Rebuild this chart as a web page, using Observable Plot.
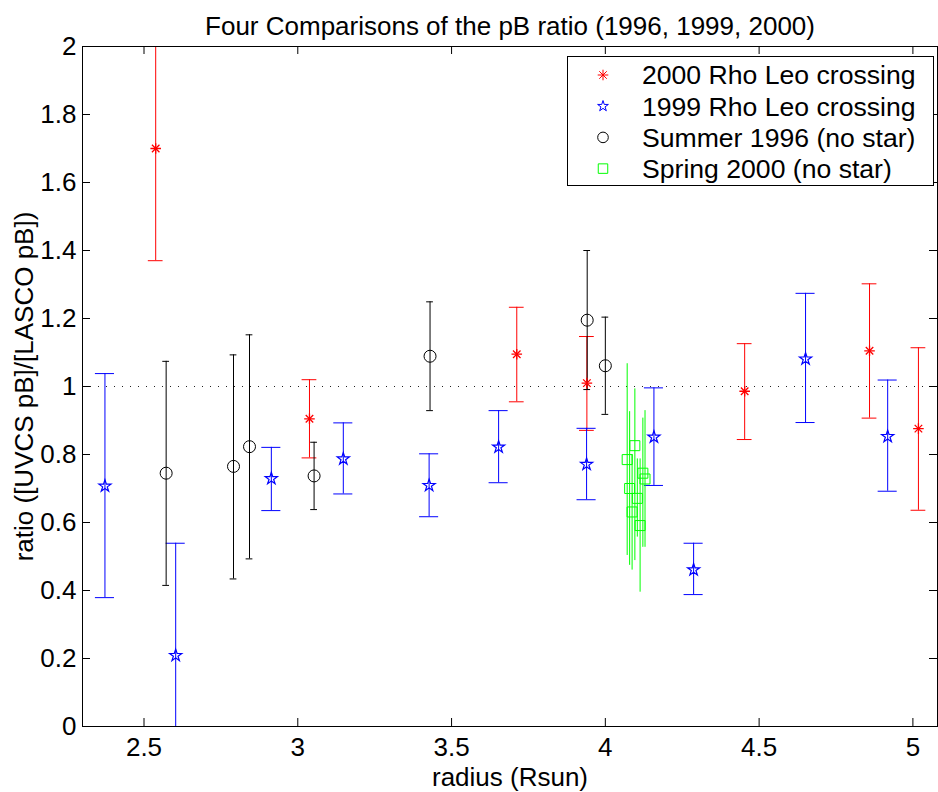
<!DOCTYPE html>
<html>
<head>
<meta charset="utf-8">
<script src="https://cdn.jsdelivr.net/npm/d3@7"></script>
<script src="https://cdn.jsdelivr.net/npm/@observablehq/plot@0.6"></script>
<style>
  body { margin: 0; background: #fff; }
  #wrap { position: relative; width: 938px; height: 792px; font-family: "Liberation Sans", Arial, sans-serif; }
  #legend { position: absolute; left: 0; top: 0; pointer-events: none; }
</style>
</head>
<body>
<div id="wrap"></div>
<script>
// ---- data ----
const titleText = "Four Comparisons of the pB ratio (1996, 1999, 2000)";
const xLabel = "radius (Rsun)";
const yLabel = "ratio ([UVCS pB]/[LASCO pB])";

const seriesNames = ["2000 Rho Leo crossing", "1999 Rho Leo crossing", "Summer 1996 (no star)", "Spring 2000 (no star)"];

const red2000X  = [2.538, 3.038, 3.712, 3.940, 4.453, 4.859, 5.018];
const red2000Y  = [1.700, 0.905, 1.095, 1.010, 0.986, 1.105, 0.876];
const red2000Lo = [1.370, 0.790, 0.955, 0.871, 0.844, 0.907, 0.636];
const red2000Hi = [2.030, 1.020, 1.233, 1.147, 1.126, 1.302, 1.114];

const blue1999X  = [2.373, 2.603, 2.914, 3.148, 3.427, 3.653, 3.939, 4.158, 4.287, 4.651, 4.918];
const blue1999Y  = [0.707, 0.209, 0.729, 0.787, 0.709, 0.822, 0.771, 0.851, 0.461, 1.081, 0.853];
const blue1999Lo = [0.379, -0.120, 0.635, 0.684, 0.617, 0.717, 0.667, 0.709, 0.388, 0.894, 0.692];
const blue1999Hi = [1.038, 0.539, 0.821, 0.893, 0.802, 0.929, 0.877, 0.996, 0.539, 1.274, 1.019];

const black1996X  = [2.572, 2.791, 2.843, 3.053, 3.430, 3.941, 4.000];
const black1996Y  = [0.745, 0.765, 0.823, 0.737, 1.089, 1.195, 1.061];
const black1996Lo = [0.415, 0.434, 0.493, 0.638, 0.929, 0.991, 0.918];
const black1996Hi = [1.074, 1.093, 1.152, 0.836, 1.249, 1.400, 1.204];

const green2000X  = [4.071, 4.079, 4.087, 4.096, 4.104, 4.113, 4.122, 4.129];
const green2000Y  = [0.785, 0.700, 0.631, 0.826, 0.671, 0.591, 0.745, 0.728];
const green2000Lo = [0.503, 0.474, 0.460, 0.488, 0.557, 0.395, 0.527, 0.527];
const green2000Hi = [1.067, 0.926, 0.800, 0.993, 0.787, 0.787, 0.907, 0.929];

const xTicks = [2.5, 3, 3.5, 4, 4.5, 5];
const xTickLabels = ["2.5", "3", "3.5", "4", "4.5", "5"];
const yTicks = [0, 0.2, 0.4, 0.6, 0.8, 1, 1.2, 1.4, 1.6, 1.8, 2];
const yTickLabels = ["0", "0.2", "0.4", "0.6", "0.8", "1", "1.2", "1.4", "1.6", "1.8", "2"];
const refLine = [1];

// ---- build tables ----
function table(xs, ys, lo, hi) {
  return xs.map((x, i) => ({x, y: ys[i], lo: lo[i], hi: hi[i]}));
}
const red = table(red2000X, red2000Y, red2000Lo, red2000Hi);
const blue = table(blue1999X, blue1999Y, blue1999Lo, blue1999Hi);
const black = table(black1996X, black1996Y, black1996Lo, black1996Hi);
const green = table(green2000X, green2000Y, green2000Lo, green2000Hi);

const RED = "#ff0000", BLUE = "#0000ff", BLACK = "#000000", GREEN = "#00ff00";
const W = 938, H = 792, mL = 82, mR = 1, mT = 46, mB = 66;
const frameW = W - mL - mR, frameH = H - mT - mB;
const FONT = 26;

function errorbars(data, color, capHalf) {
  const marks = [
    Plot.ruleX(data, {x: "x", y1: "lo", y2: "hi", stroke: color, strokeWidth: 1, clip: true})
  ];
  if (capHalf > 0) {
    marks.push(Plot.ruleY(data, {y: "lo", x1: d => d.x - capHalf, x2: d => d.x + capHalf, stroke: color, strokeWidth: 1, clip: true}));
    marks.push(Plot.ruleY(data, {y: "hi", x1: d => d.x - capHalf, x2: d => d.x + capHalf, stroke: color, strokeWidth: 1, clip: true}));
  }
  return marks;
}

const chart = Plot.plot({
  width: W, height: H,
  marginLeft: mL, marginRight: mR, marginTop: mT, marginBottom: mB,
  style: {fontFamily: "'Liberation Sans', Arial, sans-serif", fontSize: FONT + "px", background: "#fff", color: "#000"},
  x: {domain: [2.3, 5.08]},
  y: {domain: [0, 2]},
  marks: [
    Plot.ruleY(refLine, {y: d => d, stroke: "#222", strokeDasharray: "1,7", strokeWidth: 1}),
    ...errorbars(red, RED, 0.024),
    ...errorbars(blue, BLUE, 0.031),
    ...errorbars(black, BLACK, 0.011),
    ...errorbars(green, GREEN, 0),
    Plot.dot(red, {x: "x", y: "y", symbol: "plus", r: 3.5, stroke: RED, strokeWidth: 1.3, fill: "none"}),
    Plot.dot(red, {x: "x", y: "y", symbol: "times", r: 3.5, stroke: RED, strokeWidth: 1.3, fill: "none"}),
    Plot.dot(blue, {x: "x", y: "y", symbol: "star", r: 3.8, stroke: BLUE, strokeWidth: 1.2, fill: "none"}),
    Plot.dot(black, {x: "x", y: "y", symbol: "circle", r: 6, stroke: BLACK, strokeWidth: 1, fill: "none"}),
    Plot.dot(green, {x: "x", y: "y", symbol: "square", r: 5.64, stroke: GREEN, strokeWidth: 1, fill: "none"}),
    // inward ticks on all four sides
    Plot.ruleX(xTicks, {x: d => d, insetTop: frameH - 8, stroke: "#000"}),
    Plot.ruleX(xTicks, {x: d => d, insetBottom: frameH - 8, stroke: "#000"}),
    Plot.ruleY(yTicks, {y: d => d, insetRight: frameW - 8, stroke: "#000"}),
    Plot.ruleY(yTicks, {y: d => d, insetLeft: frameW - 8, stroke: "#000"}),
    Plot.axisX(xTicks, {anchor: "bottom", tickSize: 0, tickPadding: 11, tickFormat: (d, i) => xTickLabels[i],
      label: xLabel, labelAnchor: "center", labelArrow: "none", labelOffset: 59, fontSize: FONT}),
    Plot.axisY(yTicks, {anchor: "left", tickSize: 0, tickPadding: 6, tickFormat: (d, i) => yTickLabels[i],
      label: yLabel, labelAnchor: "center", labelArrow: "none", labelOffset: 68, fontSize: FONT}),
    Plot.frame({stroke: "#000", strokeWidth: 1}),
    Plot.text([titleText], {text: d => d, frameAnchor: "top", dy: -30, fontSize: FONT, fill: "#000"})
  ]
});

const wrap = document.getElementById("wrap");
wrap.appendChild(chart);

// ---- legend (inside the axes, top right) ----
const legendItems = [
  {name: seriesNames[0], color: RED, kind: "asterisk"},
  {name: seriesNames[1], color: BLUE, kind: "star"},
  {name: seriesNames[2], color: BLACK, kind: "circle"},
  {name: seriesNames[3], color: GREEN, kind: "square"}
];
const lg = d3.select(wrap).append("svg").attr("id", "legend").attr("width", W).attr("height", H);
const box = {x: 567.5, y: 56.5, w: 366, h: 129};
lg.append("rect").attr("x", box.x).attr("y", box.y).attr("width", box.w).attr("height", box.h)
  .attr("fill", "#fff").attr("stroke", "#000").attr("stroke-width", 1);
const rowY = i => 75 + i * 31.2;
legendItems.forEach((it, i) => {
  const g = lg.append("g").attr("transform", `translate(603,${rowY(i)})`)
    .attr("fill", "none").attr("stroke", it.color).attr("stroke-width", 1);
  if (it.kind === "asterisk") {
    g.append("path").attr("d", d3.symbol(d3.symbolPlus, Math.PI * 3.5 * 3.5)());
    g.append("path").attr("d", d3.symbol(d3.symbolTimes, Math.PI * 3.5 * 3.5)());
  } else if (it.kind === "star") {
    g.append("path").attr("d", d3.symbol(d3.symbolStar, 36)());
  } else if (it.kind === "circle") {
    g.append("circle").attr("r", 5.3);
  } else {
    g.append("path").attr("d", d3.symbol(d3.symbolSquare, 90)());
  }
  lg.append("text").attr("x", 642).attr("y", rowY(i)).attr("dy", "0.35em")
    .attr("font-family", "'Liberation Sans', Arial, sans-serif").attr("font-size", 26.6)
    .attr("fill", "#000").text(it.name);
});
</script>
</body>
</html>
